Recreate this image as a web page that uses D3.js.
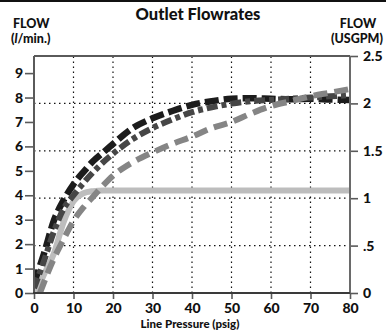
<!DOCTYPE html>
<html><head><meta charset="utf-8">
<script src="https://cdn.jsdelivr.net/npm/d3@7/dist/d3.min.js"></script>
<style>
html,body{margin:0;padding:0;background:#fff;}
svg{display:block;font-family:Lato,"Open Sans",sans-serif;font-weight:900;}
</style></head>
<body>
<svg id="chart" width="386" height="335"></svg>
<script>
// ---- data ----
const xTicks = [0, 10, 20, 30, 40, 50, 60, 70, 80];
const leftTicks = [0, 1, 2, 3, 4, 5, 6, 7, 8, 9];
const rightTicks = [0, 0.5, 1, 1.5, 2, 2.5];
const rightTickLabels = ["0", ".5", "1", "1.5", "2", "2.5"];
const gridRight = [0.5, 1, 1.5, 2];
const gridX = [10, 20, 30, 40, 50, 60, 70];

const blackPsi  = [0, 2.5, 5, 7.5, 10, 12.5, 15, 17.5, 20, 25, 30, 35, 40, 45, 50, 55, 60, 65, 70, 75, 80];
const blackFlow = [0.4, 1.6, 2.95, 3.8, 4.45, 4.95, 5.4, 5.75, 6.1, 6.75, 7.15, 7.45, 7.7, 7.85, 7.95, 7.97, 7.95, 7.93, 7.95, 7.92, 7.9];

const darkPsi  = [0, 2.5, 5, 7.5, 10, 12.5, 15, 17.5, 20, 25, 30, 35, 40, 45, 50, 55, 60, 65, 70, 75, 80];
const darkFlow = [0.2, 1.3, 2.5, 3.45, 4.0, 4.5, 4.95, 5.35, 5.7, 6.3, 6.75, 7.1, 7.4, 7.6, 7.75, 7.85, 7.9, 7.95, 8.0, 8.05, 8.1];

const midPsi  = [1.5, 5, 7.5, 10, 12.5, 15, 17.5, 20, 25, 30, 35, 40, 45, 50, 55, 60, 65, 70, 75, 80];
const midFlow = [0, 1.4, 2.2, 2.95, 3.5, 3.95, 4.4, 4.8, 5.35, 5.75, 6.1, 6.4, 6.75, 7.0, 7.35, 7.65, 7.85, 8.05, 8.2, 8.35];

const lightPsi  = [0.5, 2.5, 5, 7.5, 10, 12.5, 15, 17.5, 20, 30, 40, 50, 60, 70, 80];
const lightFlow = [0, 0.75, 1.6, 2.9, 3.75, 4.08, 4.17, 4.2, 4.2, 4.2, 4.2, 4.2, 4.2, 4.2, 4.2];

// ---- layout ----
const svg = d3.select("#chart");
const L = 34, R = 350, T = 56, B = 293;
const x = d3.scaleLinear().domain([0, 80]).range([L, R]);
const yL = d3.scaleLinear().domain([0, 9.7]).range([B, T]);
const yR = d3.scaleLinear().domain([0, 2.5]).range([B, T]);

// top frame line of image
svg.append("rect").attr("x", 0).attr("y", 0).attr("width", 386).attr("height", 2).attr("fill", "#111");

// grid
const grid = svg.append("g").attr("stroke", "#111").attr("stroke-width", 1.2).attr("stroke-dasharray", "1.5,3.5");
grid.selectAll("line.v").data(gridX).join("line")
  .attr("x1", d => x(d)).attr("x2", d => x(d)).attr("y1", B).attr("y2", T);
grid.selectAll("line.h").data(gridRight).join("line")
  .attr("x1", L).attr("x2", R).attr("y1", d => yR(d)).attr("y2", d => yR(d));

// clip
svg.append("clipPath").attr("id", "clip").append("rect")
  .attr("x", L).attr("y", T - 10).attr("width", R - L + 2).attr("height", B - T + 10);

const line = (px, py) => d3.line().curve(d3.curveMonotoneX)
  .x((d, i) => x(px[i])).y((d, i) => yL(py[i]))(px);

const lines = svg.append("g").attr("clip-path", "url(#clip)").attr("fill", "none");
lines.append("path").attr("d", line(lightPsi, lightFlow))
  .attr("stroke", "#bdbdbd").attr("stroke-width", 6);
lines.append("path").attr("d", line(blackPsi, blackFlow))
  .attr("stroke", "#1c1c1c").attr("stroke-width", 6.5).attr("stroke-dasharray", "14,5");
lines.append("path").attr("d", line(darkPsi, darkFlow))
  .attr("stroke", "#464646").attr("stroke-width", 6).attr("stroke-dasharray", "11,4,5,4");
lines.append("path").attr("d", line(midPsi, midFlow))
  .attr("stroke", "#858585").attr("stroke-width", 6).attr("stroke-dasharray", "14,7");

// axes
const axisColor = "#5a5a5a";
const styleAxis = g => {
  g.select(".domain").remove();
  g.selectAll(".tick line").attr("stroke", axisColor).attr("stroke-width", 1.6);
  g.selectAll(".tick text").attr("fill", "#111").style("font-size", "14px").style("font-weight", 900)
    .style("font-family", "Lato, 'Open Sans', sans-serif");
};

svg.append("g").attr("transform", `translate(${L},0)`)
  .call(d3.axisLeft(yL).tickValues(leftTicks).tickFormat(d3.format("d")).tickSize(9).tickPadding(2))
  .call(styleAxis);

svg.append("g").attr("transform", `translate(${R},0)`)
  .call(d3.axisRight(yR).tickValues(rightTicks).tickFormat((d, i) => rightTickLabels[i]).tickSize(8).tickPadding(5))
  .call(styleAxis);

svg.append("g").attr("transform", `translate(0,${B})`)
  .call(d3.axisBottom(x).tickValues(xTicks).tickFormat(d3.format("d")).tickSize(6).tickPadding(4))
  .call(styleAxis);

// axis lines
svg.append("line").attr("x1", L).attr("x2", L).attr("y1", T).attr("y2", B)
  .attr("stroke", axisColor).attr("stroke-width", 2);
svg.append("line").attr("x1", R).attr("x2", R).attr("y1", T).attr("y2", B)
  .attr("stroke", "#6a6a6a").attr("stroke-width", 2);
svg.append("line").attr("x1", L).attr("x2", R).attr("y1", T).attr("y2", T)
  .attr("stroke", axisColor).attr("stroke-width", 1.8);
svg.append("line").attr("x1", L - 1).attr("x2", R).attr("y1", B).attr("y2", B)
  .attr("stroke", "#3a3a3a").attr("stroke-width", 2);

// titles
const txt = (s, xx, yy, size, anchor) => svg.append("text").attr("x", xx).attr("y", yy)
  .attr("text-anchor", anchor || "start").attr("fill", "#111").style("font-size", size + "px").style("font-weight", 900).text(s);

txt("Outlet Flowrates", 198, 20, 16.5, "middle");
txt("FLOW", 13, 28, 12.5);
const lab = svg.append("text").attr("x", 11).attr("y", 43).attr("fill", "#111").style("font-size", "12.5px").style("font-weight", 900);
lab.append("tspan").text("(");
lab.append("tspan").style("font-style", "italic").text("l");
lab.append("tspan").text("/min.)");
txt("FLOW", 358, 28, 12.5, "middle");
txt("(USGPM)", 357, 43, 12.5, "middle");
txt("Line Pressure (psig)", 190, 328, 11.5, "middle");
</script>
</body></html>
